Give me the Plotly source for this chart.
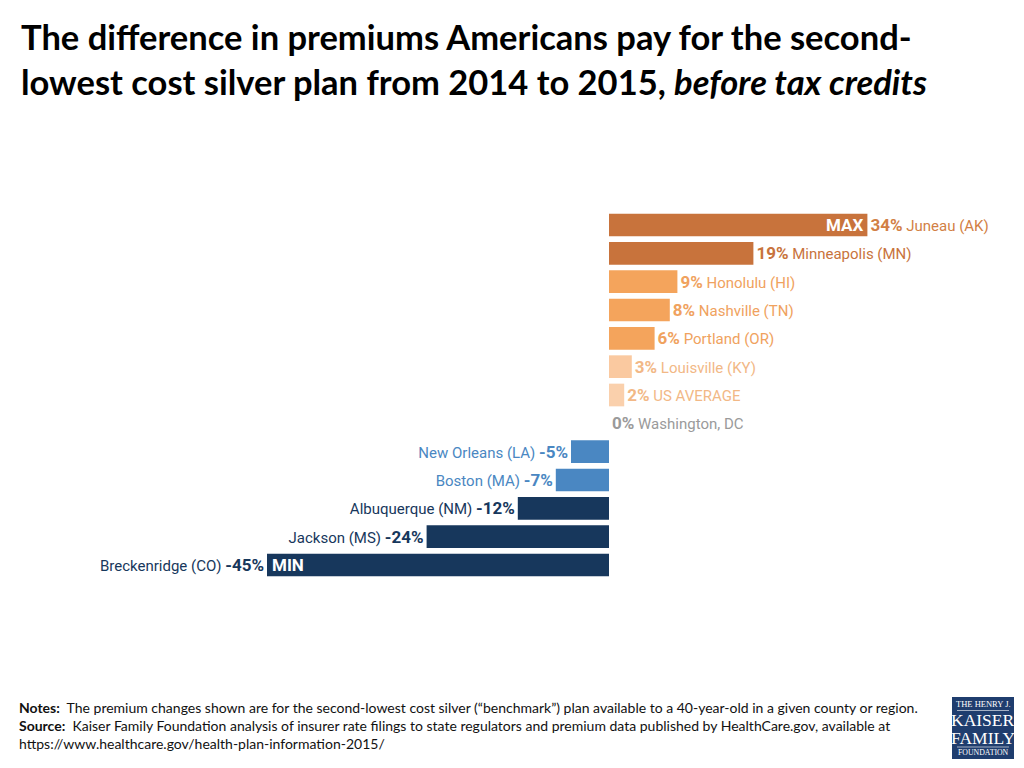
import plotly.graph_objects as go

cities = ["Juneau (AK)", "Minneapolis (MN)", "Honolulu (HI)", "Nashville (TN)",
          "Portland (OR)", "Louisville (KY)", "US AVERAGE", "Washington, DC",
          "New Orleans (LA)", "Boston (MA)", "Albuquerque (NM)", "Jackson (MS)",
          "Breckenridge (CO)"]
changes = [34, 19, 9, 8, 6, 3, 2, 0, -5, -7, -12, -24, -45]
bar_colors = ["#C8733C", "#C8733C", "#F4A45C", "#F4A45C", "#F4A45C", "#FAC9A0",
              "#FAD0AC", "#BBBBBB", "#4A87C2", "#4A87C2", "#17375C", "#17375C",
              "#17375C"]
text_colors = ["#D27F45", "#C8733C", "#F0A25E", "#F0A25E", "#F0A25E", "#F2B886",
               "#F2B886", "#9A9A9A", "#4A87C2", "#4A87C2", "#17375C", "#17375C",
               "#17375C"]
flags = {"Juneau (AK)": "MAX", "Breckenridge (CO)": "MIN"}

labels = []
for c, v in zip(cities, changes):
    val = f'<span style="font-size:17px"><b>{v}%</b></span>'
    if v >= 0:
        labels.append(f"{val} {c}")
    else:
        labels.append(f"{c} {val}")

# page has an 8px body margin; the figure is sized to fit the rest of the window
OFF = 8
W, H = 1024 - OFF, 768 - OFF


def px_x(px):
    return (px - OFF) / W


def px_y(py):
    return 1 - (py - OFF) / H


zero_px = 609 - OFF
px_per_pct = 7.6
x_range = [-zero_px / px_per_pct, (W - zero_px) / px_per_pct]

fig = go.Figure()
fig.add_trace(go.Bar(
    x=changes, y=cities, orientation="h",
    marker=dict(color=bar_colors, line=dict(width=0)),
    text=labels, textposition="outside", constraintext="none",
    outsidetextfont=dict(family="Liberation Sans Narrow, Roboto, sans-serif",
                         size=15, color=text_colors),
    cliponaxis=False, hoverinfo="skip",
))

annotations = []
for c, v in zip(cities, changes):
    if c in flags:
        annotations.append(dict(
            x=v, y=c, xref="x", yref="y", text=f"<b>{flags[c]}</b>",
            showarrow=False, xanchor="right" if v > 0 else "left",
            xshift=-2 if v > 0 else 3,
            font=dict(family="Liberation Sans Narrow, Roboto, sans-serif",
                      size=17, color="white")))

# Title
annotations.append(dict(
    x=px_x(19), y=px_y(14), xref="paper", yref="paper", xanchor="left", yanchor="top",
    align="left", showarrow=False,
    text=("<b>The difference in premiums Americans pay for the second-</b><br>"
          "<b>lowest cost silver plan from 2014 to 2015, <i>before tax credits</i></b>"),
    font=dict(family="Lato, sans-serif", size=34.5, color="#000000")))

# Notes
annotations.append(dict(
    x=px_x(17), y=px_y(697), xref="paper", yref="paper", xanchor="left", yanchor="top",
    align="left", showarrow=False,
    text=("<b>Notes:</b>  The premium changes shown are for the second-lowest cost silver (\u201cbenchmark\u201d) plan available to a 40-year-old in a given county or region.<br>"
          "<b>Source:</b>  Kaiser Family Foundation analysis of insurer rate filings to state regulators and premium data published by HealthCare.gov, available at<br>"
          "https://www.healthcare.gov/health-plan-information-2015/"),
    font=dict(family="Lato, sans-serif", size=14, color="#111111")))

# Logo
logo_x0, logo_x1, logo_y0, logo_y1 = 952, 1014, 697, 759
shapes = [dict(type="rect", xref="paper", yref="paper",
               x0=px_x(logo_x0), x1=px_x(logo_x1), y0=px_y(logo_y1), y1=px_y(logo_y0),
               fillcolor="#1F3D6E", line=dict(width=0), layer="above")]
cx = px_x((logo_x0 + logo_x1) / 2)
for txt, yc, sz in [("THE HENRY J.", 704, 8.5), ("KAISER", 720, 17.5),
                    ("FAMILY", 738, 17.5), ("FOUNDATION", 752.5, 7.8)]:
    annotations.append(dict(x=cx, y=px_y(yc), xref="paper", yref="paper",
                            text=txt, showarrow=False, xanchor="center", yanchor="middle",
                            font=dict(family="Liberation Serif, serif", size=sz, color="white")))
for yl in [710.5, 747]:
    shapes.append(dict(type="line", xref="paper", yref="paper",
                       x0=px_x(logo_x0 + 5), x1=px_x(logo_x1 - 5),
                       y0=px_y(yl), y1=px_y(yl), line=dict(color="white", width=0.6)))

top_px, bot_px = 210.8, 579.2
fig.update_layout(
    width=W, height=H, margin=dict(l=0, r=0, t=0, b=0),
    paper_bgcolor="white", plot_bgcolor="white",
    showlegend=False, bargap=0.2,
    xaxis=dict(range=x_range, visible=False, fixedrange=True),
    yaxis=dict(autorange="reversed", visible=False,
               domain=[px_y(bot_px), px_y(top_px)]),
    annotations=annotations, shapes=shapes,
)

fig.write_html("out.html")
